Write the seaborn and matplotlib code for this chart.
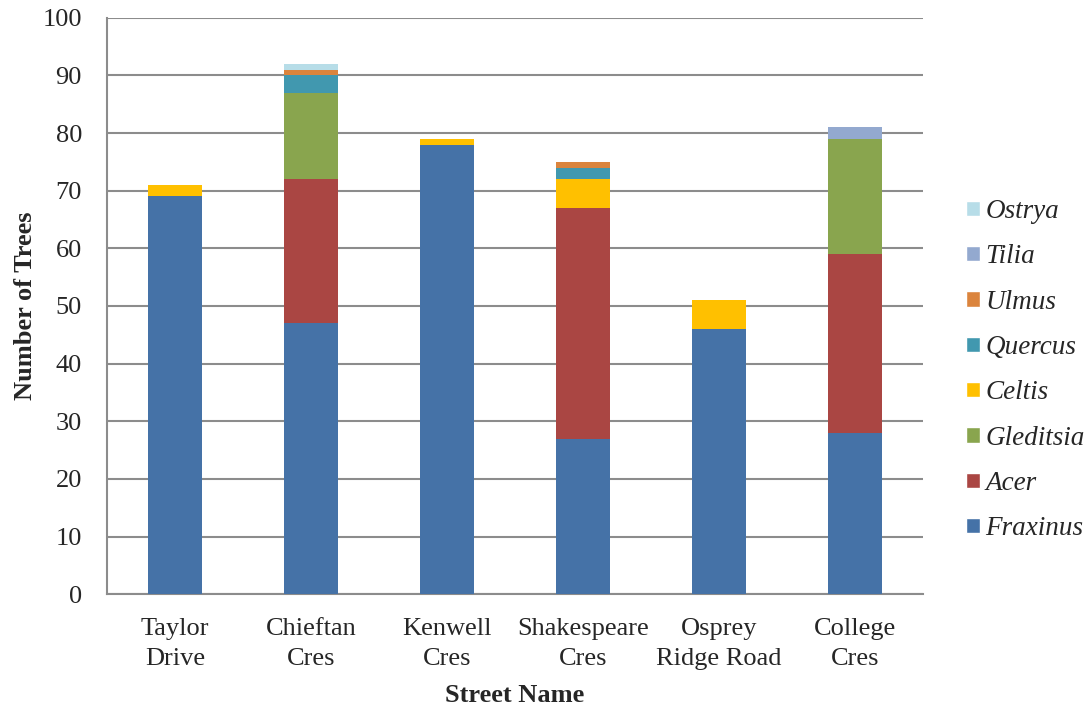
import matplotlib
matplotlib.use("Agg")
import matplotlib.pyplot as plt
import seaborn as sns
import pandas as pd
import numpy as np
from matplotlib.patches import Patch

streets = ["Taylor\nDrive", "Chieftan\nCres", "Kenwell\nCres", "Shakespeare\nCres", "Osprey\nRidge Road", "College\nCres"]
species = ["Fraxinus", "Acer", "Gleditsia", "Celtis", "Quercus", "Ulmus", "Tilia", "Ostrya"]
fraxinus = [69, 47, 78, 27, 46, 28]
acer = [0, 25, 0, 40, 0, 31]
gleditsia = [0, 15, 0, 0, 0, 20]
celtis = [2, 0, 1, 5, 5, 0]
quercus = [0, 3, 0, 2, 0, 0]
ulmus = [0, 1, 0, 1, 0, 0]
tilia = [0, 0, 0, 0, 0, 2]
ostrya = [0, 1, 0, 0, 0, 0]
colors = ["#4572A7", "#AA4643", "#89A54E", "#FFC000", "#4198AF", "#DB843D", "#93A9CF", "#B7DDE8"]

series = [fraxinus, acer, gleditsia, celtis, quercus, ulmus, tilia, ostrya]

sns.set_style("white")
plt.rcParams["font.family"] = ["Liberation Serif", "DejaVu Serif"]

fig = plt.figure(figsize=(10.91, 7.09), dpi=100)
ax = fig.add_axes([0.098, 0.162, 0.748, 0.813])

cum = np.cumsum(np.array(series), axis=0)
# draw from top layer down so lower layers overlay
for i in range(len(species) - 1, -1, -1):
    df = pd.DataFrame({"street": streets, "value": cum[i]})
    sns.barplot(data=df, x="street", y="value", color=colors[i], saturation=1,
                width=0.4, ax=ax, zorder=3, linewidth=0)

ax.set_ylim(0, 100)
ax.set_xlim(-0.5, len(streets) - 0.5)
ax.set_yticks(range(0, 101, 10))
ax.yaxis.grid(True, color="#8c8c8c", linewidth=1.5, zorder=0)
ax.set_axisbelow(True)
for s in ["top", "right"]:
    ax.spines[s].set_visible(False)
for s in ["left", "bottom"]:
    ax.spines[s].set_color("#8c8c8c")
    ax.spines[s].set_linewidth(1.5)

ax.set_xticks(np.arange(len(streets)))
ax.set_xticklabels(streets, fontsize=19, linespacing=1.45)
ax.set_xticks(np.arange(-0.5, len(streets)), minor=True)
ax.tick_params(axis="x", which="major", length=0, pad=17.5)
ax.tick_params(axis="x", which="minor", length=7, width=1.5, color="#8c8c8c", direction="out")
ax.tick_params(axis="y", length=6, width=1.5, color="#8c8c8c", direction="out", labelsize=19, pad=12)

ax.set_xlabel("Street Name", fontsize=19, fontweight="bold", labelpad=10)
ax.set_ylabel("Number of Trees", fontsize=19, fontweight="bold", labelpad=4)

handles = [Patch(facecolor=colors[i], label=species[i]) for i in range(len(species) - 1, -1, -1)]
fig.legend(handles=handles, loc="center left", bbox_to_anchor=(0.885, 0.478), frameon=False,
           prop={"style": "italic", "size": 19.5}, handlelength=0.52, handleheight=0.5,
           labelspacing=0.75, handletextpad=0.22, borderpad=0, borderaxespad=0)

fig.savefig("out.png", dpi=100)
